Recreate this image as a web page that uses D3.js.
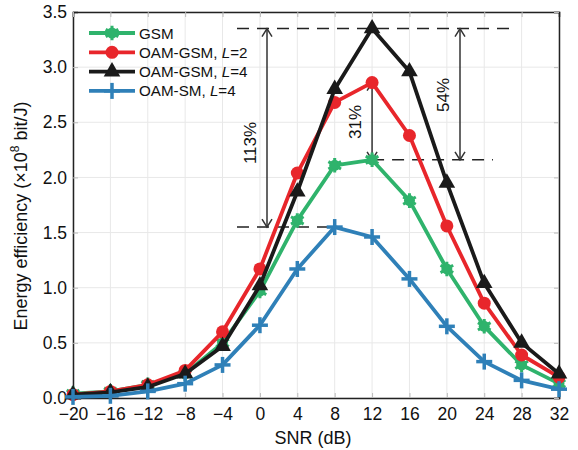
<!DOCTYPE html>
<html><head><meta charset="utf-8">
<script src="https://cdn.jsdelivr.net/npm/d3@7"></script>
<style>body{margin:0;background:#fff}svg{display:block}text{font-family:"Liberation Sans",Arial,sans-serif}</style>
</head><body><svg id="c" width="578" height="450"></svg>
<script>
const snr = [-20,-16,-12,-8,-4,0,4,8,12,16,20,24,28,32];
const gsm   = [0.04,0.06,0.12,0.22,0.50,0.97,1.61,2.11,2.16,1.79,1.17,0.65,0.30,0.13];
const oam2  = [0.03,0.06,0.12,0.25,0.60,1.17,2.04,2.68,2.86,2.38,1.56,0.86,0.39,0.19];
const oam4  = [0.03,0.05,0.10,0.22,0.47,1.02,1.87,2.80,3.35,2.96,1.95,1.04,0.50,0.22];
const oamsm = [0.01,0.02,0.06,0.13,0.30,0.66,1.17,1.55,1.46,1.08,0.65,0.33,0.16,0.08];
const seriesNames = ["GSM","OAM-GSM, L=2","OAM-GSM, L=4","OAM-SM, L=4"];
const xTicks = [-20,-16,-12,-8,-4,0,4,8,12,16,20,24,28,32];
const yTicks = [0,0.5,1.0,1.5,2.0,2.5,3.0,3.5];

const svg = d3.select("#c");
const L=73,R=559,T=12,B=398;
const x = d3.scaleLinear().domain([-20,32]).range([L,R]);
const y = d3.scaleLinear().domain([0,3.5]).range([B,T]);

// grid
svg.append("g").selectAll("line").data(xTicks).join("line")
  .attr("x1",d=>x(d)).attr("x2",d=>x(d)).attr("y1",T).attr("y2",B)
  .attr("stroke","#e8e8e8").attr("stroke-width",1);
svg.append("g").selectAll("line").data(yTicks).join("line")
  .attr("x1",L).attr("x2",R).attr("y1",d=>y(d)).attr("y2",d=>y(d))
  .attr("stroke","#e8e8e8").attr("stroke-width",1);

// axes
const fmtY = d=>d3.format(".1f")(d);
const fmtX = d=> d<0 ? "\u2212"+Math.abs(d) : String(d);
const ax = svg.append("g").attr("transform",`translate(0,${B})`)
  .call(d3.axisBottom(x).tickValues(xTicks).tickFormat(fmtX).tickSize(-5).tickPadding(9));
const ay = svg.append("g").attr("transform",`translate(${L},0)`)
  .call(d3.axisLeft(y).tickValues(yTicks).tickFormat(fmtY).tickSize(-5).tickPadding(6));
svg.append("g").attr("transform",`translate(0,${T})`)
  .call(d3.axisTop(x).tickValues(xTicks).tickFormat("").tickSize(-5));
svg.append("g").attr("transform",`translate(${R},0)`)
  .call(d3.axisRight(y).tickValues(yTicks).tickFormat("").tickSize(-5));
svg.selectAll(".domain").attr("stroke","#222").attr("stroke-width",1.5);
svg.selectAll(".tick line").attr("stroke","#bbb");
svg.selectAll(".tick text").attr("font-size",17.5).attr("fill","#111")
  .attr("font-family","Liberation Sans, Arial, sans-serif");
ax.selectAll(".tick text").attr("dy","0.72em");

// axis labels
svg.append("text").attr("x",313).attr("y",444).attr("text-anchor","middle")
  .attr("font-size",18).attr("fill","#111").text("SNR (dB)");
const yl = svg.append("text").attr("transform","translate(27,216) rotate(-90)")
  .attr("text-anchor","middle").attr("font-size",18).attr("fill","#111");
yl.append("tspan").text("Energy efficiency (\u00d710");
yl.append("tspan").attr("dy",-8).attr("font-size",12).text("8");
yl.append("tspan").attr("dy",8).text(" bit/J)");

// annotations
const dash = {"stroke":"#222","stroke-width":1.6,"stroke-dasharray":"12,8"};
function dline(x1,y1v,x2){
  const l=svg.append("line").attr("x1",x1).attr("x2",x2).attr("y1",y(y1v)).attr("y2",y(y1v));
  for(const k in dash) l.attr(k,dash[k]);
}
dline(237,3.35,513);
dline(x(12),2.16,493);
dline(237,1.55,x(8));
function darrow(xp,v1,v2){
  const y1=y(v1),y2=y(v2);
  svg.append("line").attr("x1",xp).attr("x2",xp).attr("y1",y1).attr("y2",y2).attr("stroke","#333").attr("stroke-width",1.5);
  const a=5,h=8;
  svg.append("path").attr("d",`M${xp-a},${y1+h}L${xp},${y1}L${xp+a},${y1+h}`).attr("fill","none").attr("stroke","#333").attr("stroke-width",1.5);
  svg.append("path").attr("d",`M${xp-a},${y2-h}L${xp},${y2}L${xp+a},${y2-h}`).attr("fill","none").attr("stroke","#333").attr("stroke-width",1.5);
}
darrow(267,3.35,1.55);
darrow(x(12),2.86,2.16);
darrow(460,3.35,2.16);
function rlab(xp,yp,t){
  svg.append("text").attr("transform",`translate(${xp},${yp}) rotate(-90)`)
    .attr("text-anchor","middle").attr("font-size",17).attr("fill","#111").text(t);
}
rlab(256,143,"113%");
rlab(361,122,"31%");
rlab(449,95,"54%");

// series
const colors = ["#2fb36c","#e8262b","#1a1a1a","#2f80b8"];
const data = [gsm,oam2,oam4,oamsm];
const line = d3.line().x((d,i)=>x(snr[i])).y(d=>y(d));
function marker(g,k,cx,cy,c){
  if(k===0){
    g.append("circle").attr("cx",cx).attr("cy",cy).attr("r",5.5).attr("fill",c);
    g.append("path").attr("transform",`translate(${cx},${cy})`)
      .attr("d",d3.symbol(d3.symbolAsterisk,150)()).attr("stroke",c).attr("stroke-width",3);
  } else if(k===1){
    g.append("circle").attr("cx",cx).attr("cy",cy).attr("r",6.5).attr("fill",c);
  } else if(k===2){
    g.append("path").attr("transform",`translate(${cx},${cy})`)
      .attr("d",d3.symbol(d3.symbolTriangle,120)()).attr("fill",c);
  } else {
    g.append("line").attr("x1",cx-8).attr("x2",cx+8).attr("y1",cy).attr("y2",cy).attr("stroke",c).attr("stroke-width",3.5);
    g.append("line").attr("x1",cx).attr("x2",cx).attr("y1",cy-8).attr("y2",cy+8).attr("stroke",c).attr("stroke-width",3.5);
  }
}
data.forEach((arr,k)=>{
  const g=svg.append("g");
  g.append("path").datum(arr).attr("d",line).attr("fill","none")
    .attr("stroke",colors[k]).attr("stroke-width",3.8).attr("stroke-linejoin","round");
  arr.forEach((v,i)=>marker(g,k,x(snr[i]),y(v),colors[k]));
});

// legend
const lg = svg.append("g");
seriesNames.forEach((n,k)=>{
  const yy = 33 + k*19.3;
  lg.append("line").attr("x1",89).attr("x2",135).attr("y1",yy).attr("y2",yy).attr("stroke",colors[k]).attr("stroke-width",3.8);
  marker(lg,k,112,yy,colors[k]);
  const t=lg.append("text").attr("x",139).attr("y",yy+5.5).attr("font-size",15.2).attr("fill","#111");
  const m = n.match(/^(.*)(L)(=\d)$/);
  if(m){ t.append("tspan").text(m[1]); t.append("tspan").attr("font-style","italic").text(m[2]); t.append("tspan").text(m[3]); }
  else t.text(n);
});
</script></body></html>
